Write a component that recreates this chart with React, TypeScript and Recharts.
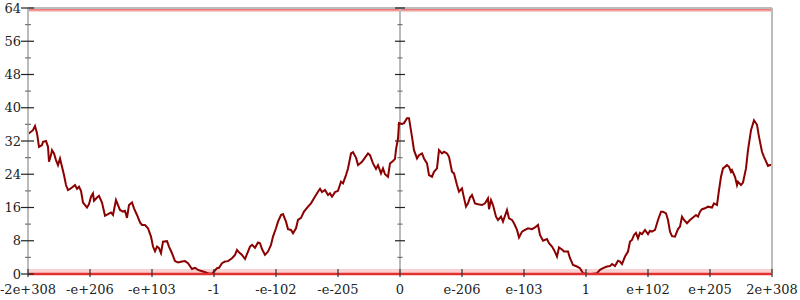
import { LineChart, Line, XAxis, YAxis, ReferenceLine, ReferenceArea } from 'recharts';

// position along the walk (0..744) and level reached
const steps = [
  0, 5, 7, 9, 11, 14, 15, 18, 20, 21, 23, 24, 26, 28, 30, 32, 34, 36, 38, 40,
  42, 44, 47, 49, 51, 53, 55, 59, 61, 63, 65, 66, 69, 71, 74, 77, 80, 83, 85, 88,
  90, 92, 95, 97, 99, 101, 104, 106, 109, 112, 114, 117, 120, 123, 125, 127, 129, 131, 133, 135,
  139, 141, 144, 147, 150, 154, 157, 160, 164, 167, 170, 175, 180, 184, 186, 189, 191, 194, 197, 200,
  204, 207, 209, 211, 214, 217, 220, 222, 224, 227, 230, 232, 234, 237, 240, 243, 245, 248, 250, 253,
  255, 258, 260, 263, 265, 268, 270, 273, 276, 280, 283, 286, 290, 292, 294, 297, 300, 302, 304, 307,
  310, 313, 315, 318, 320, 323, 325, 328, 330, 332, 334, 337, 340, 342, 345, 348, 350, 353, 355, 357,
  360, 362, 365, 367, 368, 370, 371, 374, 376, 379, 381, 384, 386, 389, 391, 394, 396, 399, 401, 404,
  406, 409, 411, 414, 416, 419, 421, 424, 426, 429, 431, 434, 435, 438, 440, 442, 444, 447, 450, 454,
  457, 460, 461, 463, 465, 468, 470, 473, 475, 479, 481, 484, 486, 489, 491, 494, 497, 500, 504, 507,
  510, 512, 515, 519, 521, 524, 526, 529, 531, 534, 536, 540, 542, 545, 549, 552, 555, 560, 564, 569,
  572, 575, 579, 582, 584, 587, 590, 592, 594, 597, 600, 602, 604, 606, 608, 610, 612, 614, 617, 620,
  622, 624, 627, 630, 633, 635, 638, 640, 642, 644, 647, 650, 652, 654, 656, 659, 662, 665, 668, 670,
  672, 674, 677, 680, 684, 686, 689, 691, 693, 695, 699, 701, 703, 704, 707, 709, 710, 713, 715, 718,
  720, 723, 726, 729, 731, 734, 736, 740, 742, 744,
];
const levels = [
  33.7, 34.6, 35.6, 33.9, 30.6, 31, 31.8, 32, 30.6, 27, 28.6, 29.8, 29, 27.4, 26.2, 27.8, 25.8, 23.8, 21.4, 20.2,
  20.5, 20.8, 21.4, 20.5, 21, 20, 17.2, 16, 16.8, 18.6, 19.4, 17.6, 18.4, 18.8, 17.2, 14, 14.4, 14.8, 14.2, 17.8,
  16.6, 15.4, 15, 15.2, 13.5, 16.6, 17.2, 15.8, 14.2, 12.4, 11.8, 11.8, 11, 9, 6.6, 5.5, 6.6, 6.2, 5, 7.8,
  7.9, 6.6, 5, 3.1, 2.8, 3, 3.1, 2.6, 1.2, 1.5, 1, 0.6, 0.2, 0, 0.6, 1.4, 1.5, 2.6, 3, 3.1,
  3.8, 4.6, 5.8, 5.2, 4.6, 3.6, 5.4, 6.6, 7, 6.3, 7.6, 7.4, 6, 4.6, 5.4, 7, 9, 11, 12.6, 14.2,
  14.4, 12.6, 10.8, 10.6, 9.8, 11, 13, 13.5, 15, 16.2, 17, 18.2, 19.8, 20.5, 19.7, 20.2, 19, 19.4, 18.6, 19.7,
  20, 22.2, 21.8, 23.8, 25.4, 29, 29.3, 28, 26.2, 26.6, 27, 28, 29, 28.6, 26.6, 25.3, 26.2, 24.2, 25.4, 24,
  23.4, 26.6, 27.2, 27.7, 30, 32.6, 36.3, 36.1, 36.3, 37.5, 37.5, 33, 29.8, 27.8, 28.6, 29, 27.8, 26.6, 23.8, 23.4,
  24.6, 25.4, 29.8, 29, 29.4, 29, 28.2, 24.6, 24.2, 21.4, 19.8, 20.6, 19.4, 16.2, 17, 18.4, 19, 17, 16.8, 16.6,
  17, 18.2, 15.6, 17.8, 16.6, 13.8, 13, 13.8, 12.6, 15.4, 13.4, 13, 12.2, 10.6, 8.8, 10.2, 10.6, 11, 10.8, 11.2,
  11.8, 9.4, 8, 8.4, 7.4, 6.6, 5.8, 4.2, 6.4, 5.9, 5.4, 5.4, 3.8, 2.2, 1.8, 1.4, 0.2, 0, 0, 0.2,
  1, 1.4, 1.8, 1.9, 2.4, 1.9, 3.2, 3, 2.4, 4.2, 5.4, 7.8, 8.2, 9.4, 9.9, 8.6, 9.9, 9.6, 10.6, 9.6,
  10.4, 10.2, 10.6, 13, 15, 15, 14.6, 13, 10.2, 9.1, 9, 10.8, 11.4, 13.8, 13, 12.2, 13, 13.6, 14.2, 13.8,
  15, 15.6, 15.8, 16.2, 16, 17, 16.6, 20.2, 23.4, 25.4, 26.2, 25.8, 24.6, 25, 23.4, 21.4, 22.2, 21.4, 22, 25.4,
  29.8, 34.6, 37, 35.9, 33, 29.4, 28.2, 26, 26.2, 26.2,
];

const xTicks = [0, 62, 124, 186, 248, 310, 372, 434, 496, 558, 620, 682, 744];
const xLabels = ['-2e+308', '-e+206', '-e+103', '-1', '-e-102', '-e-205', '0', 'e-206', 'e-103', '1', 'e+102', 'e+205', '2e+308'];
const yTicks = [0, 4, 8, 12, 16, 20, 24, 28, 32, 36, 40, 44, 48, 52, 56, 60, 64];

const data = steps.map((s, i) => ({ step: s, level: levels[i] }));

const FONT = "'DejaVu Serif', serif";
const AXIS = '#bbbbbb';

const isMajor = (v: number) => v % 8 === 0;

function LeftTick(p: any) {
  const v = p.payload.value;
  const major = isMajor(v);
  return (
    <g>
      <line x1={p.x - (major ? 7 : 3)} x2={p.x + (major ? 6 : 3)} y1={p.y} y2={p.y} stroke={major ? '#222' : '#777'} strokeWidth={1.2} />
      {major && (
        <text x={p.x - 7} y={p.y} dy="0.36em" textAnchor="end" fontFamily={FONT} fontSize={13} fill="#222">
          {v}
        </text>
      )}
    </g>
  );
}

function RightTick(p: any) {
  const v = p.payload.value;
  const major = isMajor(v);
  return (
    <line
      x1={p.x - (major ? 4 : 2)}
      x2={p.x + (major ? 7 : 4)}
      y1={p.y}
      y2={p.y}
      stroke={major ? '#222' : '#777'}
      strokeWidth={1.2}
    />
  );
}

function BottomTick(p: any) {
  const i = xTicks.indexOf(p.payload.value);
  return (
    <g>
      <line x1={p.x} x2={p.x} y1={p.y - 5} y2={p.y + 3} stroke="#333" strokeWidth={1.2} />
      <text x={p.x} y={p.y + 20} textAnchor="middle" fontFamily={FONT} fontSize={13} fill="#222">
        {xLabels[i]}
      </text>
    </g>
  );
}

export default function App() {
  return (
    <div style={{ position: 'absolute', left: 0, top: 0, width: 800, height: 300, background: '#fff' }}>
      <LineChart width={800} height={300} data={data} margin={{ top: 8, right: 0, left: 0, bottom: 0 }}>
        <XAxis
          dataKey="step"
          type="number"
          domain={[0, 744]}
          ticks={xTicks}
          interval={0}
          height={26}
          tickSize={0}
          tickMargin={0}
          tickLine={false}
          axisLine={{ stroke: '#e03030', strokeWidth: 2.5 }}
          tick={BottomTick}
        />
        <YAxis
          yAxisId="l"
          domain={[0, 64]}
          ticks={yTicks}
          interval={0}
          width={28}
          tickSize={0}
          tickMargin={0}
          tickLine={false}
          axisLine={{ stroke: AXIS, strokeWidth: 2 }}
          tick={LeftTick}
        />
        <YAxis
          yAxisId="r"
          orientation="right"
          domain={[0, 64]}
          ticks={yTicks}
          interval={0}
          width={28}
          tickSize={0}
          tickMargin={0}
          tickLine={false}
          axisLine={{ stroke: AXIS, strokeWidth: 2 }}
          tick={RightTick}
        />
        <ReferenceArea yAxisId="l" y1={0} y2={1.2} fill="#f04848" fillOpacity={0.26} stroke="none" />
        <ReferenceArea yAxisId="l" y1={63.1} y2={64} fill="#e53935" fillOpacity={0.32} stroke="none" />
        <ReferenceLine yAxisId="l" y={64} stroke={AXIS} strokeWidth={2} />
        <ReferenceLine yAxisId="l" y={63.6} stroke="#e53935" strokeOpacity={0.5} strokeWidth={1.5} />
        <ReferenceLine yAxisId="l" x={372} stroke={AXIS} strokeWidth={2} />
        {yTicks.map((v) => {
          const h = isMajor(v) ? 5 : 2.5;
          return (
            <ReferenceLine
              key={v}
              yAxisId="l"
              segment={[{ x: 372 - h, y: v }, { x: 372 + h, y: v }]}
              stroke={isMajor(v) ? '#222' : '#777'}
              strokeWidth={1.2}
            />
          );
        })}
        <Line
          yAxisId="l"
          dataKey="level"
          type="linear"
          stroke="#8b0000"
          strokeWidth={2}
          dot={false}
          isAnimationActive={false}
        />
      </LineChart>
    </div>
  );
}
